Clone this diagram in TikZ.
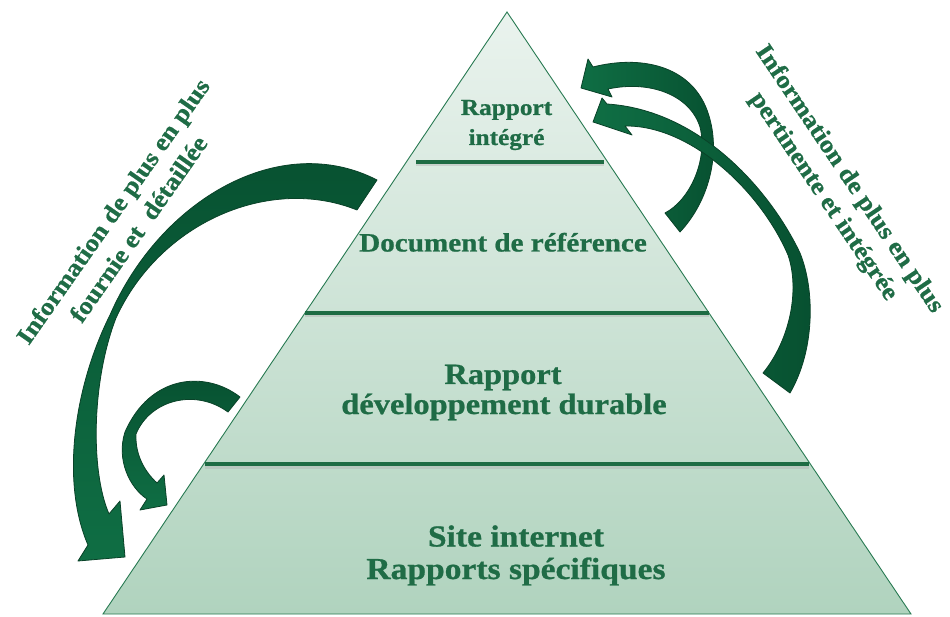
\documentclass[tikz,border=0pt]{standalone}
\usepackage{fontspec}
\setmainfont{Liberation Serif}[FakeStretch=1.1, BoldFeatures={FakeBold=0.8}]
\definecolor{txtgreen}{RGB}{31,108,70}
\definecolor{linegreen}{RGB}{30,108,68}
\definecolor{edgegreen}{RGB}{40,122,82}
\definecolor{pyrtop}{RGB}{234,243,238}
\definecolor{pyrbot}{RGB}{176,211,190}
\definecolor{arrdark}{RGB}{7,80,48}
\definecolor{arrlight}{RGB}{15,110,68}
\definecolor{arrline}{RGB}{9,66,40}
\begin{document}
\begin{tikzpicture}[x=1pt,y=-1pt,
  lvl/.style={text=txtgreen, inner sep=0pt, anchor=base},
  arrowbody/.style={draw=arrline, line width=0.8pt, line join=round},
  divider/.style={draw=linegreen, line width=3.2pt},
  dshadow/.style={draw=black!30, line width=3pt, opacity=0.45},
  side/.style={text=txtgreen, font=\bfseries\fontsize{24.5}{31}\selectfont, align=center, inner sep=0pt}]
\useasboundingbox (0,0) rectangle (950,617);
\fill[white] (0,0) rectangle (950,617);

% pyramid
\coordinate (apex) at (507,12);
\coordinate (bl) at (103,614);
\coordinate (br) at (911,614);
\shade[top color=pyrtop, bottom color=pyrbot] (apex) -- (bl) -- (br) -- cycle;
\draw[edgegreen, line width=0.9pt, line join=miter] (apex) -- (bl) -- (br) -- cycle;

% dividers
\coordinate (d1l) at (416,162); \coordinate (d1r) at (604,162);
\coordinate (d2l) at (305,313); \coordinate (d2r) at (709,313);
\coordinate (d3l) at (205,464); \coordinate (d3r) at (809,464);
\foreach \a/\b in {d1l/d1r,d2l/d2r,d3l/d3r}{
  \draw[dshadow] ([yshift=-3pt]\a) -- ([yshift=-3pt]\b);
  \draw[divider] (\a) -- (\b);
}

% level texts
\node[lvl, font=\bfseries\fontsize{23}{28}\selectfont] (t1a) at (506.5,115) {Rapport};
\node[lvl, font=\bfseries\fontsize{23}{28}\selectfont] (t1b) at (506.5,145) {intégré};
\node[lvl, font=\bfseries\fontsize{26.5}{32}\selectfont] (t2) at (503,251.5) {Document de référence};
\node[lvl, font=\bfseries\fontsize{29.5}{34}\selectfont] (t3a) at (503,384) {Rapport};
\node[lvl, font=\bfseries\fontsize{29.5}{34}\selectfont] (t3b) at (504,414) {développement durable};
\node[lvl, font=\bfseries\fontsize{30.5}{35}\selectfont] (t4a) at (516,546.5) {Site internet};
\node[lvl, font=\bfseries\fontsize{30.5}{35}\selectfont] (t4b) at (516,579) {Rapports spécifiques};

% side texts
\node[side, rotate=55] (sl) at (125.5,220) {Information de plus en plus\\fournie et~ détaillée};
\node[side, rotate=-56] (sr) at (836,188) {Information de plus en plus\\pertinente et intégrée};

% big left arrow
\shade[arrowbody, top color=arrdark, bottom color=arrlight]
  (377,180) .. controls (280,130) and (160,200) .. (110,315)
  .. controls (75,385) and (60,480) .. (88,545)
  -- (78,561) -- (125,557) -- (120,501) -- (109,514)
  .. controls (90,470) and (92,380) .. (116,318)
  .. controls (160,222) and (270,175) .. (357,210) -- cycle;

% small left arrow
\shade[arrowbody, top color=arrdark, bottom color=arrlight]
  (240,397) .. controls (205,370) and (150,375) .. (125,432)
  .. controls (116,460) and (130,488) .. (147,499)
  -- (140,510) -- (167,505) -- (164,475) -- (157,483)
  .. controls (145,472) and (135,455) .. (136,434)
  .. controls (150,400) and (195,388) .. (228,412) -- cycle;

% right arrow to upper head
\shade[arrowbody, left color=arrlight, right color=arrdark]
  (680,232) .. controls (710,200) and (722,150) .. (707,110)
  .. controls (690,65) and (640,55) .. (593,67)
  -- (588,59) -- (581,88) -- (612,97) -- (608,89)
  .. controls (650,80) and (690,95) .. (700,127)
  .. controls (708,160) and (690,200) .. (665,213) -- cycle;

% long right arrow to lower head
\shade[arrowbody, left color=arrlight, right color=arrdark]
  (790,393) .. controls (815,350) and (815,290) .. (800,253)
  .. controls (770,190) and (700,110) .. (607,104)
  -- (602,98) -- (593,122) -- (632,135) -- (625,126)
  .. controls (690,125) and (760,190) .. (788,255)
  .. controls (800,290) and (790,340) .. (763,373) -- cycle;
\end{tikzpicture}
\end{document}
